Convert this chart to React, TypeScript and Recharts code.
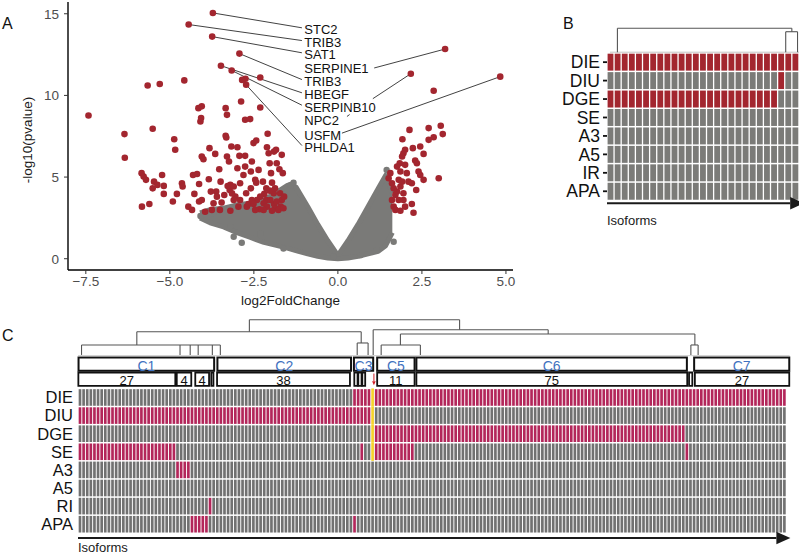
import React from 'react';
import {
  ComposedChart, Area, Scatter, XAxis, YAxis, ReferenceLine, ReferenceDot, ReferenceArea,
  BarChart, Bar, Cell, Label,
} from 'recharts';

const FONT = '"Liberation Sans", Arial, Helvetica, sans-serif';

// ---------- panel A: volcano plot ----------
const RED_A = '#a3262f';
const GREY_A = '#7a7a78';

// dense grey cloud of non-significant genes, as an envelope [lo, hi] per log2FC
const cloudX = [-4.1, -3.8, -3.4, -3.0, -2.6, -2.2, -1.8, -1.5, -1.25, -0.9, -0.6, -0.3, 0, 0.3, 0.6, 0.9, 1.2, 1.42, 1.62];
const cloudLo = [2.5, 2.2, 1.95, 1.6, 1.3, 1.0, 0.8, 0.65, 0.5, 0.3, 0.15, 0.05, 0, 0.05, 0.15, 0.3, 0.45, 0.8, 1.6];
const cloudHi = [2.8, 3.0, 3.1, 3.3, 3.4, 3.6, 4.1, 4.5, 4.4, 3.2, 2.1, 1.1, 0.2, 1.1, 2.1, 3.2, 4.3, 5.1, 4.0];

const greyOutliers: [number, number][] = [
  [-4.09, 2.62], [-3.2, 1.96], [-2.86, 0.98], [-1.62, 0.63], [1.45, 5.44], [1.66, 1.04], [1.16, 0.53],
  [-1.41, 4.52], [-1.32, 4.66], [-3.7, 2.78], [-3.1, 1.35], [-2.31, 1.55], [0.67, 0.22], [-0.13, 0.12],
];

const redLeft: [number, number][] = [
  [-7.42, 8.77], [-6.35, 7.63], [-6.34, 6.18], [-5.51, 7.96], [-5.66, 10.61], [-5.3, 10.7], [-4.57, 10.92],
  [-5.84, 5.24], [-5.78, 5.03], [-5.71, 4.83], [-5.83, 3.19], [-5.61, 3.35], [-5.47, 4.72], [-5.37, 4.52],
  [-5.51, 4.31], [-5.18, 4.46], [-5.18, 3.97], [-5.23, 5.13], [-4.87, 7.32], [-4.84, 6.67], [-4.79, 3.97],
  [-4.91, 3.5], [-4.64, 4.62], [-4.62, 4.42], [-4.45, 3.19], [-4.31, 5.13], [-4.19, 5.19], [-4.27, 3.97],
  [-4.13, 4.58], [-4.13, 3.5], [-4.05, 3.6], [-4.09, 8.4], [-4.15, 9.22], [-4.05, 9.33], [-4.07, 8.61],
  [-4.05, 6.26], [-4.0, 6.09], [-3.82, 6.77], [-3.84, 4.87], [-3.78, 4.11], [-3.75, 2.99], [-3.62, 4.11],
  [-3.65, 6.42], [-3.53, 5.48], [-3.49, 4.72], [-3.46, 3.44], [-3.34, 9.22], [-3.3, 8.81], [-3.34, 7.53],
  [-3.32, 7.42], [-3.3, 6.26], [-3.24, 5.95], [-3.2, 4.52], [-3.22, 4.21], [-3.17, 6.87], [-3.1, 4.42],
  [-3.05, 3.8], [-3.1, 3.6], [-2.99, 6.83], [-2.93, 6.3], [-2.99, 5.54], [-2.91, 4.62], [-2.88, 9.63],
  [-2.76, 8.51], [-2.61, 8.55], [-2.76, 6.3], [-2.76, 5.64], [-2.81, 5.13], [-2.73, 4.01], [-2.71, 3.19],
  [-2.66, 3.35], [-2.59, 5.34], [-2.56, 5.95], [-2.51, 7.08], [-2.43, 7.24], [-2.46, 4.83], [-2.43, 4.66],
  [-2.41, 3.6], [-2.33, 3.03], [-2.31, 9.26], [-2.36, 5.44], [-2.23, 4.72], [-2.19, 3.97], [-2.13, 3.6],
  [-2.09, 7.65], [-2.11, 6.83], [-2.06, 6.46], [-2.03, 5.85], [-1.99, 5.24], [-1.96, 4.66], [-1.91, 4.01],
  [-1.9, 3.35], [-1.87, 3.09], [-1.9, 6.56], [-1.84, 6.67], [-1.82, 5.85], [-1.74, 5.48], [-1.67, 6.36],
  [-1.64, 5.24], [-1.72, 4.01], [-1.67, 3.6], [-1.7, 3.19], [-2.56, 3.6], [-2.51, 3.35], [-2.31, 3.8],
  [-2.21, 3.39], [-2.11, 3.19], [-2.01, 3.6], [-1.82, 3.5], [-1.77, 2.99], [-1.96, 2.94], [-2.21, 2.99],
  [-2.46, 2.99], [-2.96, 3.19], [-3.2, 2.94], [-3.51, 2.99], [-3.7, 3.39], [-3.95, 2.88], [-4.34, 2.99],
  [-2.91, 3.6], [-3.15, 4.0], [-3.38, 3.9], [-3.6, 3.8], [-3.28, 4.45], [-2.59, 4.31], [-2.13, 4.31],
  [-2.03, 4.17], [-1.87, 4.31], [-1.6, 3.8], [-1.62, 3.09],
  [-3.72, 15.05], [-4.44, 14.34], [-3.74, 13.6], [-2.93, 12.56], [-3.48, 11.82], [-3.16, 11.53],
  [-2.75, 11.02], [-2.85, 10.95], [-2.31, 11.1], [-2.73, 10.65],
];

const redRight: [number, number][] = [
  [3.19, 12.84], [2.17, 11.33], [4.83, 11.15], [2.85, 10.29], [2.13, 7.89], [1.92, 7.32], [2.7, 8.0],
  [3.06, 8.14], [3.12, 7.63], [2.85, 7.44], [2.7, 7.28], [2.45, 6.87], [2.23, 6.77], [2.0, 6.67],
  [1.95, 6.46], [1.91, 6.26], [1.84, 5.85], [1.76, 5.64], [1.86, 5.34], [2.3, 6.01], [2.35, 5.85],
  [2.55, 6.42], [2.4, 5.34], [2.45, 5.13], [2.55, 4.83], [3.0, 4.93], [2.2, 4.62], [2.1, 4.72],
  [2.33, 4.21], [2.2, 3.35], [2.25, 2.82], [1.56, 5.24], [1.51, 4.93], [1.61, 4.62], [1.66, 4.31],
  [1.81, 4.83], [1.86, 4.42], [1.71, 3.91], [1.81, 3.6], [1.66, 3.19], [1.95, 4.01], [1.95, 3.6],
  [2.0, 3.19], [1.71, 2.99], [1.86, 2.94], [1.61, 3.6], [1.76, 4.11], [1.91, 4.72], [2.05, 5.24], [2.0, 5.75],
];

const geneNames = ['STC2', 'TRIB3', 'SAT1', 'SERPINE1', 'TRIB3', 'HBEGF', 'SERPINB10', 'NPC2', 'USFM', 'PHLDA1'];
const geneLabelY = [14.02, 13.24, 12.49, 11.63, 10.85, 10.04, 9.28, 8.5, 7.58, 6.81];
const geneLabelX = -1.0;
const geneLinks: [number, number, number, number][] = [
  [-1.07, 14.14, -3.72, 15.05], [-1.07, 13.36, -4.44, 14.34], [-1.07, 12.61, -3.74, 13.6],
  [1.08, 11.68, 3.19, 12.84], [-1.07, 10.97, -2.93, 12.56], [-1.07, 10.16, -3.48, 11.82],
  [-1.07, 9.4, -3.16, 11.53], [0.27, 8.71, 0.35, 8.83], [1.04, 9.8, 2.17, 11.33],
  [0.12, 7.69, 4.83, 11.15], [-1.07, 6.93, -2.73, 10.65],
];

const xTicksA = [-7.5, -5, -2.5, 0, 2.5, 5];
const yTicksA = [0, 5, 10, 15];

// ---------- panel B: summary heatmap ----------
const bRowNames = ['DIE', 'DIU', 'DGE', 'SE', 'A3', 'A5', 'IR', 'APA'];
const bBlocks = [24, 1, 2];
const bFlagsByRow = [[1, 1, 1], [0, 1, 0], [1, 0, 0], [0, 0, 0], [0, 0, 0], [0, 0, 0], [0, 0, 0], [0, 0, 0]];
const bDendro: [number, number, number, number][] = [
  [1.41, 9.34, 25.03, 9.34], [1.41, 9.34, 1.41, 8.04], [25.03, 9.34, 25.03, 9.15],
  [24.2, 9.15, 25.8, 9.15], [24.2, 9.15, 24.2, 8.04], [25.8, 9.15, 25.8, 8.04],
];

// ---------- panel C: clustered heatmap ----------
const cRowNames = ['DIE', 'DIU', 'DGE', 'SE', 'A3', 'A5', 'RI', 'APA'];
const cBlocks = [27, 4, 5, 1, 39, 1, 1, 1, 2, 1, 11, 75, 1, 27];
const cDIE = [0, 0, 0, 0, 0, 1, 1, 1, 1, 2, 1, 1, 1, 1];
const cDIU = [1, 1, 1, 1, 1, 1, 1, 1, 1, 2, 0, 0, 0, 0];
const cDGE = [0, 0, 0, 0, 0, 0, 0, 0, 0, 2, 1, 1, 0, 0];
const cSE = [1, 0, 0, 0, 0, 0, 0, 1, 0, 2, 1, 0, 1, 0];
const cA3 = [0, 1, 0, 0, 0, 0, 0, 0, 0, 0, 0, 0, 0, 0];
const cA5 = [0, 0, 0, 0, 0, 0, 0, 0, 0, 0, 0, 0, 0, 0];
const cRI = [0, 0, 0, 1, 0, 0, 0, 0, 0, 0, 0, 0, 0, 0];
const cAPA = [0, 0, 1, 0, 0, 1, 0, 0, 0, 0, 0, 0, 0, 0];

const clusterNames = ['C1', 'C2', 'C3', 'C5', 'C6', 'C7'];
const clusterFrom = [0.15, 38.4, 76.0, 82.4, 93.2, 169.7];
const clusterTo = [37.5, 75.2, 81.3, 92.7, 167.7, 195.9];
const subCounts = ['27', '4', '4', '', '38', '', '', '', '11', '75', '', '27'];
const subFrom = [0.1, 27.2, 32.3, 36.7, 38.3, 76.1, 77.2, 78.3, 82.4, 93.2, 168.3, 169.9];
const subTo = [26.8, 31.2, 36.1, 37.3, 74.9, 77.0, 78.1, 79.1, 92.7, 167.8, 169.2, 195.9];

const cDendro: [number, number, number, number][] = [
  [47.2, 11.79, 105.1, 11.79], [47.2, 11.79, 47.2, 11.13], [105.1, 11.79, 105.1, 11.24],
  [16.2, 11.13, 78.0, 11.13], [16.2, 11.13, 16.2, 10.4], [78.0, 11.13, 78.0, 10.51],
  [0.97, 10.4, 39.2, 10.4], [0.97, 10.4, 0.97, 9.85], [28.1, 10.4, 28.1, 9.85], [30.9, 10.4, 30.9, 9.85],
  [33.1, 10.4, 33.1, 9.85], [37.0, 10.4, 37.0, 9.85], [39.2, 10.4, 39.2, 9.85],
  [76.9, 10.51, 79.9, 10.51], [76.9, 10.51, 76.9, 9.85], [79.9, 10.51, 79.9, 9.85],
  [81.3, 11.24, 129.5, 11.24], [81.3, 11.24, 81.3, 9.85], [129.5, 11.24, 129.5, 11.01],
  [88.8, 11.01, 169.9, 11.01], [88.8, 11.01, 88.8, 10.4], [83.5, 10.4, 94.3, 10.4],
  [83.5, 10.4, 83.5, 9.85], [94.3, 10.4, 94.3, 9.85], [169.9, 11.01, 169.9, 10.4],
  [168.8, 10.4, 170.8, 10.4], [168.8, 10.4, 168.8, 9.85], [170.8, 10.4, 170.8, 9.85],
];

// ---------- helpers ----------
const fmtA = (v: number) => (v < 0 ? '\u2212' : '') + Math.abs(v).toFixed(1);

const dot = (r: number, fill: string) => (p: any) => <circle cx={p.cx} cy={p.cy} r={r} fill={fill} />;

const YTitle = (p: any) => {
  const vb = p.viewBox;
  const x = vb.x + 27;
  const y = vb.y + vb.height / 2 + 4;
  return (
    <text x={x} y={y} transform={`rotate(-90, ${x}, ${y})`} textAnchor="middle" dominantBaseline="central"
      fontSize={13.5} fill="#1a1a1a">-log10(pvalue)</text>
  );
};

const arrowShape = (color: string, width: number, head: number, label?: string, labelDy = 0) => (p: any) => {
  const dx = p.x2 - p.x1;
  const dy = p.y2 - p.y1;
  const len = Math.hypot(dx, dy) || 1;
  const ux = dx / len;
  const uy = dy / len;
  const bx = p.x2 - ux * head;
  const by = p.y2 - uy * head;
  const hw = head * 0.45;
  return (
    <g>
      <line x1={p.x1} y1={p.y1} x2={bx} y2={by} stroke={color} strokeWidth={width} />
      <polygon points={`${p.x2},${p.y2} ${bx - uy * hw},${by + ux * hw} ${bx + uy * hw},${by - ux * hw}`} fill={color} />
      {label ? <text x={p.x1} y={p.y1 + labelDy} fontSize={13} fill="#1a1a1a">{label}</text> : null}
    </g>
  );
};

const cellShape = (band: number, gapX: number, gapY: number, yellow: string) => (p: any) => {
  const cx = p.x + p.width / 2;
  const w = band - gapX;
  const full = p.fill === yellow;
  return (
    <rect x={cx - w / 2} y={full ? p.y : p.y + gapY / 2} width={w}
      height={full ? p.height : Math.max(p.height - gapY, 0)} fill={p.fill} />
  );
};

const expand = (blocks: number[], flags: number[]) => blocks.flatMap((n, b) => Array(n).fill(flags[b]));

// ---------- panels ----------
const VolcanoPanel = () => {
  const cloud = cloudX.map((x, i) => ({ x, band: [cloudLo[i], cloudHi[i]] }));
  const greyPts = greyOutliers.map(([x, y]) => ({ x, y }));
  const redPts = [...redLeft, ...redRight].map(([x, y]) => ({ x, y }));
  return (
    <ComposedChart width={520} height={310} data={cloud} margin={{ top: 2, right: 7, bottom: 0, left: 0 }}>
      <XAxis type="number" dataKey="x" domain={[-8.03, 5.21]} allowDataOverflow ticks={xTicksA} interval={0}
        tickFormatter={fmtA} height={40} tickSize={4} tickMargin={2}
        tick={{ fill: '#4d4d4d', fontSize: 13.5 }} tickLine={{ stroke: '#333' }}
        axisLine={{ stroke: '#000', strokeWidth: 1.4 }}>
        <Label value="log2FoldChange" position="insideBottom" offset={5} fill="#1a1a1a" fontSize={13.5} />
      </XAxis>
      <YAxis type="number" dataKey="y" domain={[-0.69, 15.72]} allowDataOverflow ticks={yTicksA} interval={0}
        width={68} tickSize={4} tickMargin={5}
        tick={{ fill: '#4d4d4d', fontSize: 13.5 }} tickLine={{ stroke: '#333' }}
        axisLine={{ stroke: '#000', strokeWidth: 1.4 }}>
        <Label content={YTitle} />
      </YAxis>
      <Area dataKey="band" type="linear" fill={GREY_A} fillOpacity={1} stroke={GREY_A} strokeWidth={5}
        strokeLinejoin="round" dot={false} activeDot={false} isAnimationActive={false} />
      <Scatter data={greyPts} shape={dot(3.2, GREY_A)} isAnimationActive={false} />
      <Scatter data={redPts} shape={dot(3.3, RED_A)} isAnimationActive={false} />
      {geneLinks.map(([x1, y1, x2, y2], i) => (
        <ReferenceLine key={`l${i}`} segment={[{ x: x1, y: y1 }, { x: x2, y: y2 }]} stroke="#111"
          strokeWidth={0.8} ifOverflow="visible" />
      ))}
      {geneNames.map((name, i) => (
        <ReferenceDot key={`g${i}`} x={geneLabelX} y={geneLabelY[i]} r={0} fill="none" stroke="none"
          ifOverflow="visible"
          label={{ value: name, position: 'right', offset: 0, fill: '#111', fontSize: 13 }} />
      ))}
    </ComposedChart>
  );
};

const B_RED = '#a3262f';
const B_GREY = '#7b7b78';
const SummaryPanel = () => {
  const nCols = bBlocks.reduce((a, b) => a + b, 0);
  const flags = bFlagsByRow.map((f) => expand(bBlocks, f));
  const data = Array.from({ length: nCols }, (_, i) => {
    const row: Record<string, number> = { col: i };
    bRowNames.forEach((n) => { row[n] = 1; });
    return row;
  });
  const palette = [B_GREY, B_RED];
  const shape = cellShape(192 / nCols, 1.3, 1.5, 'none');
  return (
    <BarChart width={279} height={230} data={data} margin={{ top: 26, right: 0, bottom: 0, left: 0 }}
      barCategoryGap={0} barGap={0}>
      <XAxis dataKey="col" hide />
      <XAxis xAxisId="n" type="number" domain={[0, nCols]} allowDataOverflow hide />
      <YAxis type="number" domain={[-1.6, 9.46]} allowDataOverflow width={87}
        ticks={[0.5, 1.5, 2.5, 3.5, 4.5, 5.5, 6.5, 7.5]} interval={0}
        tickFormatter={(v: number) => bRowNames[7 - Math.floor(v)]}
        tickSize={4} tickMargin={3} axisLine={false}
        tickLine={{ stroke: '#111', strokeWidth: 1.8 }} tick={{ fill: '#111', fontSize: 17.5 }} />
      {[...bRowNames].reverse().map((name) => {
        const r = bRowNames.indexOf(name);
        return (
          <Bar key={name} dataKey={name} stackId="s" shape={shape} isAnimationActive={false}>
            {flags[r].map((f, i) => <Cell key={i} fill={palette[f]} />)}
          </Bar>
        );
      })}
      <ReferenceLine xAxisId="n" segment={[{ x: 0.4, y: 8.04 }, { x: 26.6, y: 8.04 }]} stroke="#c4c4c4"
        strokeWidth={1} ifOverflow="visible" />
      {bDendro.map(([x1, y1, x2, y2], i) => (
        <ReferenceLine key={`d${i}`} xAxisId="n" segment={[{ x: x1, y: y1 }, { x: x2, y: y2 }]}
          stroke="#555" strokeWidth={1.1} ifOverflow="visible" />
      ))}
      <ReferenceLine xAxisId="n" segment={[{ x: 0, y: -0.15 }, { x: 26.7, y: -0.15 }]} ifOverflow="visible"
        shape={arrowShape('#1a1a1a', 2, 14, 'Isoforms', 21.7)} />
    </BarChart>
  );
};

const C_RED = '#b3265a';
const C_GREY = '#717171';
const C_YELLOW = '#f6d32b';
const ClusterPanel = () => {
  const nCols = cBlocks.reduce((a, b) => a + b, 0);
  const rowFlags = [cDIE, cDIU, cDGE, cSE, cA3, cA5, cRI, cAPA].map((f) => expand(cBlocks, f));
  const data = Array.from({ length: nCols }, (_, i) => {
    const row: Record<string, number> = { col: i };
    cRowNames.forEach((n) => { row[n] = 1; });
    return row;
  });
  const palette = [C_GREY, C_RED, C_YELLOW];
  const shape = cellShape(708 / nCols, 0.95, 1.5, C_YELLOW);
  return (
    <BarChart width={799} height={245} data={data} margin={{ top: 6, right: 13, bottom: 0, left: 0 }}
      barCategoryGap={0} barGap={0}>
      <XAxis dataKey="col" hide />
      <XAxis xAxisId="n" type="number" domain={[0, nCols]} allowDataOverflow hide />
      <YAxis type="number" domain={[-1.2, 12]} allowDataOverflow width={78}
        ticks={[0.5, 1.5, 2.5, 3.5, 4.5, 5.5, 6.5, 7.5]} interval={0}
        tickFormatter={(v: number) => cRowNames[7 - Math.floor(v)]}
        tickSize={0} tickMargin={5} axisLine={false} tickLine={false}
        tick={{ fill: '#111', fontSize: 16.5 }} />
      {[...cRowNames].reverse().map((name) => {
        const r = cRowNames.indexOf(name);
        return (
          <Bar key={name} dataKey={name} stackId="s" shape={shape} isAnimationActive={false}>
            {rowFlags[r].map((f, i) => <Cell key={i} fill={palette[f]} />)}
          </Bar>
        );
      })}
      <ReferenceLine xAxisId="n" segment={[{ x: 0, y: 9.81 }, { x: nCols, y: 9.81 }]} stroke="#cccccc"
        strokeWidth={1} ifOverflow="visible" />
      {cDendro.map(([x1, y1, x2, y2], i) => (
        <ReferenceLine key={`d${i}`} xAxisId="n" segment={[{ x: x1, y: y1 }, { x: x2, y: y2 }]}
          stroke="#555" strokeWidth={1.1} ifOverflow="visible" />
      ))}
      {clusterNames.map((name, i) => (
        <ReferenceArea key={name} xAxisId="n" x1={clusterFrom[i]} x2={clusterTo[i]} y1={8.97} y2={9.71}
          fill="#fff" fillOpacity={1} stroke="#111" strokeWidth={2} ifOverflow="visible"
          label={{ value: name, position: 'center', fill: '#3f72c0', fontSize: 14, dy: 2 }} />
      ))}
      {subCounts.map((count, i) => (
        <ReferenceArea key={`s${i}`} xAxisId="n" x1={subFrom[i]} x2={subTo[i]} y1={8.14} y2={8.88}
          fill="#fff" fillOpacity={1} stroke="#111" strokeWidth={1.8} ifOverflow="visible"
          label={count ? { value: count, position: 'center', fill: '#111', fontSize: 13, dy: 1 } : undefined} />
      ))}
      <ReferenceLine xAxisId="n" segment={[{ x: 81.5, y: 8.82 }, { x: 81.5, y: 8.18 }]} ifOverflow="visible"
        shape={arrowShape('#d21f26', 1, 4)} />
      <ReferenceLine xAxisId="n" segment={[{ x: 0, y: -0.26 }, { x: 196.2, y: -0.26 }]} ifOverflow="visible"
        shape={arrowShape('#1a1a1a', 2, 14, 'Isoforms', 14.5)} />
    </BarChart>
  );
};

const letter = (left: number, top: number): React.CSSProperties => ({
  position: 'absolute', left, top, fontSize: 16, lineHeight: 1, color: '#111',
});

export default function App() {
  return (
    <div style={{ position: 'absolute', left: 0, top: 0, width: 799, height: 555, background: '#fff', fontFamily: FONT }}>
      <div style={{ position: 'absolute', left: 0, top: 0 }}><VolcanoPanel /></div>
      <div style={{ position: 'absolute', left: 520, top: 0 }}><SummaryPanel /></div>
      <div style={{ position: 'absolute', left: 0, top: 310 }}><ClusterPanel /></div>
      <div style={letter(2, 16)}>A</div>
      <div style={letter(563, 16)}>B</div>
      <div style={letter(2, 328)}>C</div>
    </div>
  );
}
